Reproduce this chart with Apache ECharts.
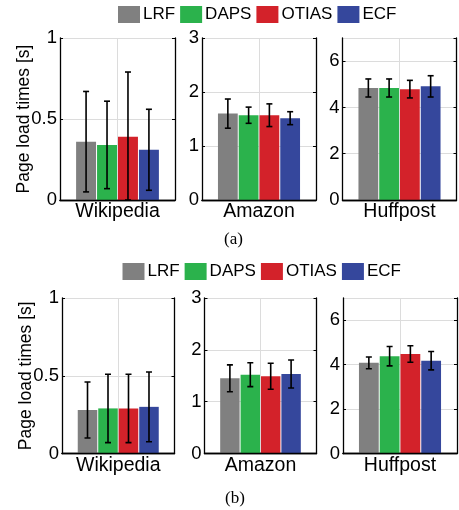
<!DOCTYPE html>
<html>
<head>
<meta charset="utf-8">
<script src="https://cdn.jsdelivr.net/npm/echarts@6/dist/echarts.min.js"></script>
<style>html,body{margin:0;padding:0;background:#fff}#c{width:459px;height:510px}</style>
</head>
<body>
<div id="c"></div>
<script>
// ---- data ----
const categories = ['Wikipedia', 'Amazon', 'Huffpost'];
const methods = ['LRF', 'DAPS', 'OTIAS', 'ECF'];
const yMax = [1, 3, 7];
const yInterval = [0.5, 1, 2];

// (a) means and error half-widths per site
const aLRF = [0.36, 1.60, 4.84];
const aDAPS = [0.34, 1.57, 4.84];
const aOTIAS = [0.39, 1.57, 4.79];
const aECF = [0.31, 1.515, 4.91];
const aLRFerr = [0.31, 0.27, 0.39];
const aDAPSerr = [0.27, 0.15, 0.39];
const aOTIASerr = [0.40, 0.21, 0.38];
const aECFerr = [0.25, 0.12, 0.46];

// (b)
const bLRF = [0.28, 1.45, 4.08];
const bDAPS = [0.29, 1.52, 4.38];
const bOTIAS = [0.29, 1.49, 4.48];
const bECF = [0.30, 1.535, 4.18];
const bLRFerr = [0.18, 0.26, 0.265];
const bDAPSerr = [0.22, 0.23, 0.435];
const bOTIASerr = [0.22, 0.25, 0.37];
const bECFerr = [0.224, 0.27, 0.415];

const colors = ['#808080', '#2bb24c', '#d3222a', '#35479c'];
const FONT = 'Liberation Sans, Arial, Helvetica, sans-serif';

const figs = [
  { means: [aLRF, aDAPS, aOTIAS, aECF], errs: [aLRFerr, aDAPSerr, aOTIASerr, aECFerr],
    grids: [[60, 115], [202, 114], [342.5, 114]], top: 38, height: 162, legendLeft: 118, legendTop: 6, cap: '(a)', capX: 224, capY: 241 },
  { means: [bLRF, bDAPS, bOTIAS, bECF], errs: [bLRFerr, bDAPSerr, bOTIASerr, bECFerr],
    grids: [[62, 112.5], [204.5, 112], [343, 114]], top: 298, height: 155.5, legendLeft: 122.5, legendTop: 263, cap: '(b)', capX: 225, capY: 500 }
];

const CATGAP = 0.28, BARGAP = 0.05;
const grid = [], xAxis = [], yAxis = [], series = [], legend = [], graphic = [];

figs.forEach((f, fi) => {
  legend.push({
    data: methods, left: f.legendLeft, top: f.legendTop, padding: 0, itemWidth: 22, itemHeight: 17, itemGap: 5,
    icon: 'rect', selectedMode: false,
    textStyle: { fontFamily: FONT, fontSize: 17, color: '#000', padding: [0, 0, 0, -2] }
  });
  graphic.push({ type: 'text', left: f.capX, top: f.capY - 10,
    style: { text: f.cap, font: '17px "Liberation Serif", "Times New Roman", serif', fill: '#000' } });
  categories.forEach((cat, ci) => {
    const gi = grid.length;
    const [gl, gw] = f.grids[ci];
    grid.push({ left: gl, top: f.top, width: gw, height: f.height });
    // bottom category axis (box bottom line above bars)
    xAxis.push({ type: 'category', gridIndex: gi, data: [cat], position: 'bottom', z: 5,
      axisLine: { show: true, lineStyle: { color: '#000', width: 1.3 } },
      axisTick: { show: false },
      axisLabel: { color: '#000', fontFamily: FONT, fontSize: 19.5, margin: 2 },
      splitLine: { show: false } });
    // top value axis -> top border + central vertical grid line
    xAxis.push({ type: 'value', gridIndex: gi, position: 'top', min: 0, max: 2, interval: 1,
      axisLine: { show: true, lineStyle: { color: '#000', width: 1.3 } },
      axisTick: { show: false }, axisLabel: { show: false },
      splitLine: { show: true, lineStyle: { color: '#dcdcdc', width: 1 } } });
    yAxis.push({ type: 'value', gridIndex: gi, position: 'left', min: 0, max: yMax[ci], interval: yInterval[ci],
      name: ci === 0 ? 'Page load times [s]' : '', nameLocation: 'middle', nameGap: 27, nameRotate: 90,
      nameMoveOverlap: false,
      nameTextStyle: { color: '#000', fontFamily: FONT, fontSize: 17.5 },
      axisLine: { show: true, lineStyle: { color: '#000', width: 1.3 } },
      axisTick: { show: true, inside: true, length: 3, lineStyle: { color: '#000' } },
      axisLabel: { color: '#000', fontFamily: FONT, fontSize: 18.5, margin: 3,
        showMaxLabel: yMax[ci] % yInterval[ci] === 0 },
      splitLine: { show: true, lineStyle: { color: '#dcdcdc', width: 1 } } });
    yAxis.push({ type: 'value', gridIndex: gi, position: 'right', min: 0, max: yMax[ci], interval: yInterval[ci],
      axisLine: { show: true, lineStyle: { color: '#000', width: 1.3 } },
      axisTick: { show: true, inside: true, length: 3, lineStyle: { color: '#000' } },
      axisLabel: { show: false }, splitLine: { show: false } });
    const xi = gi * 2, yi = gi * 2;
    methods.forEach((m, mi) => {
      series.push({ type: 'bar', name: m, xAxisIndex: xi, yAxisIndex: yi,
        data: [f.means[mi][ci]], barCategoryGap: (CATGAP * 100) + '%', barGap: (BARGAP * 100) + '%',
        itemStyle: { color: colors[mi] }, emphasis: { disabled: true }, z: 2 });
    });
    methods.forEach((m, mi) => {
      series.push({ type: 'custom', xAxisIndex: xi, yAxisIndex: yi, z: 4, clip: true,
        data: [[0, f.means[mi][ci], f.errs[mi][ci]]],
        renderItem: (params, api) => {
          const x = api.value(0), v = api.value(1), e = api.value(2);
          const band = api.size([1, 0])[0];
          const groupW = band * (1 - CATGAP);
          const barW = groupW / (4 + 3 * BARGAP);
          const off = -groupW / 2 + barW / 2 + mi * barW * (1 + BARGAP);
          const hi = api.coord([x, v + e]);
          const lo = api.coord([x, Math.max(v - e, 0)]);
          const cx = hi[0] + off, cw = 3;
          const st = { stroke: '#000', lineWidth: 1.6 };
          return { type: 'group', children: [
            { type: 'line', shape: { x1: cx, y1: hi[1], x2: cx, y2: lo[1] }, style: st },
            { type: 'line', shape: { x1: cx - cw, y1: hi[1], x2: cx + cw, y2: hi[1] }, style: st },
            { type: 'line', shape: { x1: cx - cw, y1: lo[1], x2: cx + cw, y2: lo[1] }, style: st }
          ] };
        } });
    });
  });
});

const chart = echarts.init(document.getElementById('c'), null, { renderer: 'canvas' });
chart.setOption({ animation: false, backgroundColor: '#fff', legend, grid, xAxis, yAxis, series, graphic });
</script>
</body>
</html>
